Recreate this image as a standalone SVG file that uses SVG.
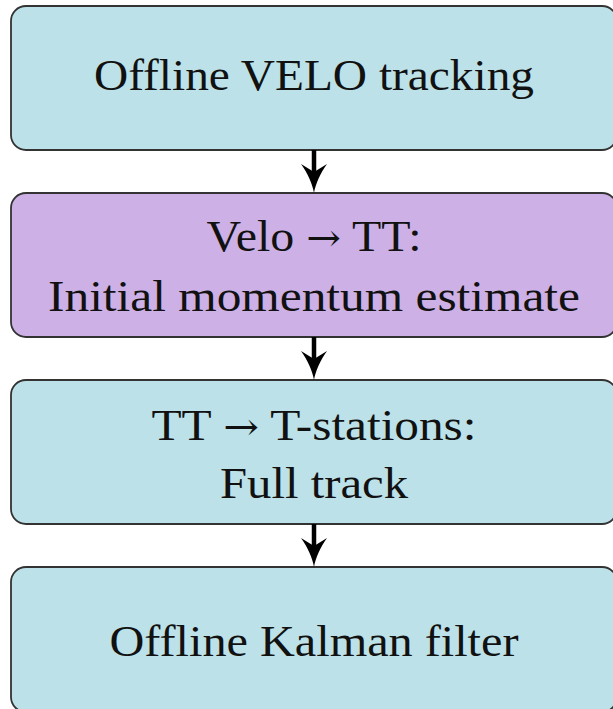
<svg xmlns="http://www.w3.org/2000/svg" width="613" height="709" viewBox="0 0 613 709">
  <style>
    .box { stroke: #333; stroke-width: 1.8; }
    .blue { fill: #bce1e8; }
    .purple { fill: #cdb0e5; }
    .label { font-family: "Liberation Serif", "Times New Roman", serif; font-size: 44px; fill: #111; text-anchor: middle; }
    .arr { font-family: "DejaVu Serif", serif; font-size: 38px; }
    .edge { stroke: #000; stroke-width: 4.5; fill: none; }
  </style>
  <defs>
    <marker id="arrowhead" markerUnits="userSpaceOnUse" markerWidth="30" markerHeight="28" viewBox="0 0 30 28" refX="8" refY="14" orient="auto">
      <path d="M29,14 C20,12.5 9,7.5 0,1 L8,14 L0,27 C9,20.5 20,15.5 29,14 Z" fill="#000"/>
    </marker>
  </defs>

  <g id="node-velo-tracking">
    <rect class="box blue" x="11" y="6" width="606" height="144" rx="15"/>
    <text class="label" x="314" y="90" textLength="440" lengthAdjust="spacingAndGlyphs">Offline VELO tracking</text>
  </g>

  <g id="node-velo-tt">
    <rect class="box purple" x="11" y="193" width="606" height="144" rx="15"/>
    <text class="label" x="314" y="251" textLength="215" lengthAdjust="spacingAndGlyphs">Velo <tspan class="arr">→</tspan> TT:</text>
    <text class="label" x="314" y="311" textLength="532" lengthAdjust="spacingAndGlyphs">Initial momentum estimate</text>
  </g>

  <g id="node-tt-tstations">
    <rect class="box blue" x="11" y="380" width="606" height="144" rx="15"/>
    <text class="label" x="314" y="440" textLength="325" lengthAdjust="spacingAndGlyphs">TT <tspan class="arr">→</tspan> T-stations:</text>
    <text class="label" x="314" y="498" textLength="188" lengthAdjust="spacingAndGlyphs">Full track</text>
  </g>

  <g id="node-kalman">
    <rect class="box blue" x="11" y="567" width="606" height="145" rx="15"/>
    <text class="label" x="314" y="656" textLength="409" lengthAdjust="spacingAndGlyphs">Offline Kalman filter</text>
  </g>

  <g id="connectors">
    <line class="edge" x1="314" y1="150" x2="314" y2="172" marker-end="url(#arrowhead)"/>
    <line class="edge" x1="314" y1="337" x2="314" y2="359" marker-end="url(#arrowhead)"/>
    <line class="edge" x1="314" y1="524" x2="314" y2="546" marker-end="url(#arrowhead)"/>
  </g>
</svg>
